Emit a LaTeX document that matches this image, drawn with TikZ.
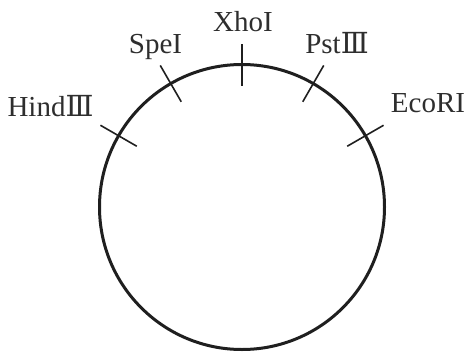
\documentclass[tikz,border=0pt]{standalone}
\usepackage{fontspec}
\setmainfont{Liberation Serif}
\newfontfamily\romfont{DejaVu Serif}
\usetikzlibrary{calc}
\newcommand{\rIII}{{\romfont Ⅲ}}
\begin{document}
\begin{tikzpicture}[x=1pt,y=-1pt,
  ring/.style={line width=3pt,draw=black!88},
  sitetick/.style={line width=1.6pt,draw=black!88},
  sitelabel/.style={anchor=base,inner sep=0pt,font=\fontsize{29}{31}\selectfont,text=black!82}]
\useasboundingbox (0,0) rectangle (466,351);
\coordinate (c) at (242,207);
\draw[ring] (c) circle[radius=142.5];
\foreach \a/\n in {90/xho,120/spe,150/hind,60/pst,30/eco}{
  \coordinate (\n-in) at ($(c)+(-\a:121.5)$);
  \coordinate (\n-out) at ($(c)+(-\a:163.5)$);
  \draw[sitetick] (\n-in) -- (\n-out);
}
\node[sitelabel] (lxho) at (243,31) {XhoI};
\node[sitelabel] (lspe) at (155.5,53) {SpeI};
\node[sitelabel] (lpst) at (337,53) {Pst\rIII};
\node[sitelabel] (lhind) at (50.5,116.7) {Hind\rIII};
\node[sitelabel] (leco) at (428,112) {EcoRI};
\end{tikzpicture}
\end{document}
